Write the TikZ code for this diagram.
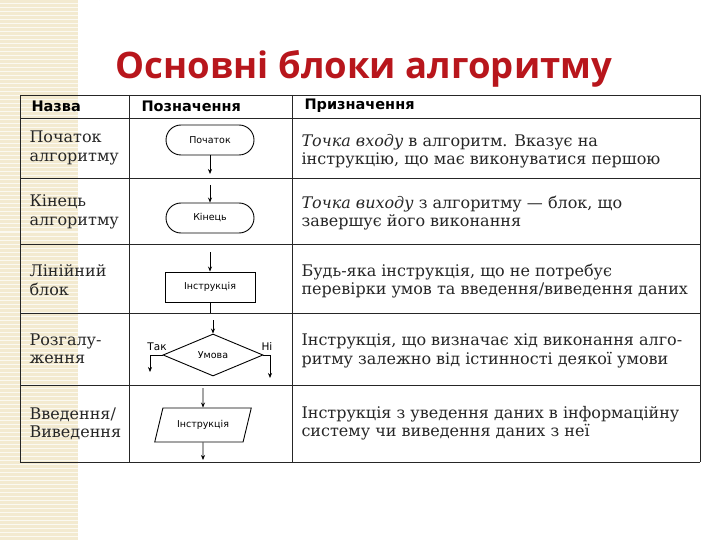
\documentclass[tikz,border=0pt]{standalone}
\usepackage{fontspec}
\setmainfont{DejaVu Serif}
\newfontfamily\sansf{DejaVu Sans}
\newfontfamily\titlef{Open Sans}
\usetikzlibrary{shapes.geometric,arrows.meta}
\definecolor{strip}{HTML}{F3EAD0}
\definecolor{ttl}{HTML}{B8161C}
\begin{document}
\begin{tikzpicture}[x=1pt,y=-1pt,
  grid/.style={line width=0.8pt,black!85},
  body/.style={anchor=west,font=\fontsize{16}{18.5}\selectfont,text=black!85,align=left},
  hdr/.style={anchor=west,font=\sansf\bfseries\fontsize{14.5}{16}\selectfont},
  shp/.style={draw,line width=0.9pt,font=\sansf\fontsize{9.5}{10}\selectfont,inner sep=0pt},
  arr/.style={-{Stealth[length=5pt,width=4pt]},line width=0.7pt}]
\useasboundingbox (0,0) rectangle (720,540);
\fill[strip] (0,0) rectangle (78,540);
\foreach \y in {0,4,...,540} \draw[white!70!strip,line width=1pt] (0,\y) -- (78,\y);
\draw[black!15,line width=1pt] (100,0) arc (0:-180:55 and 55);
\node[font=\titlef\bfseries\fontsize{36.5}{38}\selectfont,text=ttl] (title) at (364,69) {Основні блоки алгоритму};
% table
\draw[grid] (20,95) -- (700,95);
\draw[grid] (20,118) -- (700,118);
\foreach \y in {178,244,313,385,462} \draw[grid] (20,\y) -- (700,\y);
\draw[grid] (20,95) -- (20,462);
\draw[grid] (129,95) -- (129,462);
\draw[grid] (292,95) -- (292,462);
\draw[grid] (700,95) -- (700,462);
\node[hdr] (h1) at (28,106) {Назва};
\node[hdr] (h2) at (138,106) {Позначення};
\node[hdr] (h3) at (301,106) {Призначення};
% names
\node[body] (n1) at (26,148) {Початок\\алгоритму};
\node[body] (n2) at (26,212) {Кінець\\алгоритму};
\node[body] (n3) at (26,280) {Лінійний\\блок};
\node[body] (n4) at (26,349) {Розгалу-\\ження};
\node[body] (n5) at (26,424) {Введення/\\Виведення};
% descriptions
\node[body] (d1) at (298,151) {\textit{Точка входу} в алгоритм. Вказує на\\інструкцію, що має виконуватися першою};
\node[body] (d2) at (298,213) {\textit{Точка виходу} з алгоритму — блок, що\\завершує його виконання};
\node[body] (d3) at (298,281) {Будь-яка інструкція, що не потребує\\перевірки умов та введення/виведення даних};
\node[body] (d4) at (298,351) {Інструкція, що визначає хід виконання алго-\\ритму залежно від істинності деякої умови};
\node[body] (d5) at (298,423) {Інструкція з уведення даних в інформаційну\\систему чи виведення даних з неї};
% shapes
\node[shp,rounded corners=15pt,minimum width=88pt,minimum height=30pt] (s1) at (210,140) {Початок};
\coordinate (s1o) at (210,174);
\draw[arr] (s1.south) -- (s1o);
\coordinate (s2i) at (210,185);
\node[shp,rounded corners=15pt,minimum width=88pt,minimum height=30pt] (s2) at (210,218) {Кінець};
\draw[arr] (s2i) -- (s2.north);
\coordinate (s3i) at (210,252);
\node[shp,minimum width=90pt,minimum height=30pt] (s3) at (210,287) {Інструкція};
\coordinate (s3o) at (210,313);
\draw[arr] (s3i) -- (s3.north);
\draw[line width=0.7pt] (s3.south) -- (s3o);
\coordinate (s4i) at (213,320);
\node[shp,diamond,aspect=2.6,minimum width=100pt,minimum height=42pt] (s4) at (213,355) {Умова};
\draw[arr] (s4i) -- (s4.north);
\coordinate (yes) at (150,355);
\coordinate (yesd) at (150,372);
\coordinate (no) at (270,355);
\coordinate (nod) at (270,378);
\draw[arr] (s4.west) -- (yes) -- (yesd);
\draw[arr] (s4.east) -- (no) -- (nod);
\node[font=\sansf\fontsize{10.5}{11}\selectfont] (tak) at (157,347) {Так};
\node[font=\sansf\fontsize{10.5}{11}\selectfont] (ni) at (267,347) {Ні};
\coordinate (s5i) at (203,388);
\node[shp,trapezium,trapezium left angle=60,trapezium right angle=120,minimum width=97pt,minimum height=34pt,trapezium stretches=true] (s5) at (203,425) {Інструкція};
\coordinate (s5o) at (203,460);
\draw[arr] (s5i) -- (s5.north);
\draw[arr] (s5.south) -- (s5o);
\end{tikzpicture}
\end{document}
